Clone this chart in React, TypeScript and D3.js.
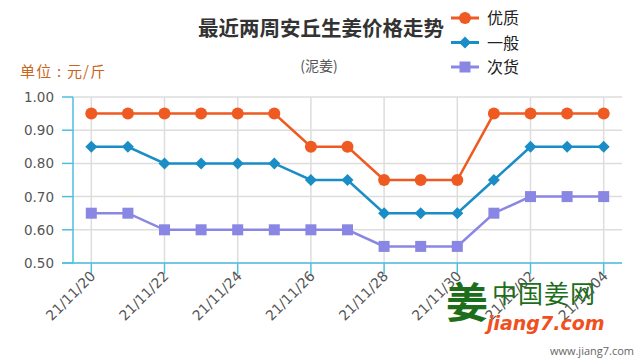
import React from "react";
import * as d3 from "d3";

const dates = ["21/11/20","21/11/21","21/11/22","21/11/23","21/11/24","21/11/25","21/11/26","21/11/27","21/11/28","21/11/29","21/11/30","21/12/01","21/12/02","21/12/03","21/12/04"];
const seriesNames = ["优质", "一般", "次货"];
const youzhi = [0.95,0.95,0.95,0.95,0.95,0.95,0.85,0.85,0.75,0.75,0.75,0.95,0.95,0.95,0.95];
const yiban = [0.85,0.85,0.80,0.80,0.80,0.80,0.75,0.75,0.65,0.65,0.65,0.75,0.85,0.85,0.85];
const cihuo = [0.65,0.65,0.60,0.60,0.60,0.60,0.60,0.60,0.55,0.55,0.55,0.65,0.70,0.70,0.70];
const yTicks = [0.5,0.6,0.7,0.8,0.9,1.0];

const colors = ["#ee5a22", "#1a8dc6", "#8a86e4"];
const axisColor = "#4dbfe3";
const FONT = "'Noto Sans CJK SC', 'Open Sans', sans-serif";
const NUMFONT = "'DejaVu Sans', sans-serif";

function Marker({ type, x, y, color }: { type: number; x: number; y: number; color: string }) {
  if (type === 0) return <circle cx={x} cy={y} r={6} fill={color} />;
  if (type === 1) return <path d={`M${x},${y - 6}L${x + 6},${y}L${x},${y + 6}L${x - 6},${y}Z`} fill={color} />;
  return <rect x={x - 5.5} y={y - 5.5} width={11} height={11} fill={color} />;
}

export default function App() {
  const left = 73, right = 622, top = 97, bottom = 263;
  const x = d3.scaleBand<string>().domain(dates).range([left, right]).padding(0);
  const cx = (d: string) => (x(d) as number) + x.bandwidth() / 2;
  const y = d3.scaleLinear().domain([0.5, 1.0]).range([bottom, top]);
  const data = [youzhi, yiban, cihuo];
  const line = d3.line<number>().x((_, i) => cx(dates[i])).y((v) => y(v));
  const labeled = dates.filter((_, i) => i % 2 === 0);

  return (
    <svg width={640} height={360} style={{ position: "absolute", left: 0, top: 0, fontFamily: FONT }}>
      <rect width={640} height={360} fill="#fff" />
      {/* grid */}
      {yTicks.map((t) => (
        <line key={t} x1={left} x2={right} y1={y(t)} y2={y(t)} stroke="#dddddd" strokeWidth={1.5} />
      ))}
      {labeled.map((d) => (
        <line key={d} x1={cx(d)} x2={cx(d)} y1={top} y2={bottom} stroke="#dddddd" strokeWidth={1.5} />
      ))}
      {/* axes */}
      <line x1={left} x2={left} y1={top} y2={bottom} stroke={axisColor} strokeWidth={1.5} />
      <line x1={62} x2={right} y1={bottom} y2={bottom} stroke={axisColor} strokeWidth={1.5} />
      {yTicks.map((t) => (
        <g key={t}>
          <line x1={62} x2={left} y1={y(t)} y2={y(t)} stroke={axisColor} strokeWidth={1.5} />
          <text x={54} y={y(t) + 5} textAnchor="end" fontSize={13.5} fill="#555" fontFamily={NUMFONT}>{t.toFixed(2)}</text>
        </g>
      ))}
      {labeled.map((d) => (
        <g key={d}>
          <line x1={cx(d)} x2={cx(d)} y1={bottom} y2={bottom + 11} stroke={axisColor} strokeWidth={1.5} />
          <text transform={`translate(${cx(d) + 5},${bottom + 14}) rotate(-45)`} textAnchor="end" fontSize={14} fill="#555" fontFamily={NUMFONT}>{d}</text>
        </g>
      ))}
      {/* series */}
      {data.map((s, k) => (
        <g key={k}>
          <path d={line(s) || ""} fill="none" stroke={colors[k]} strokeWidth={2.5} />
          {s.map((v, i) => (
            <Marker key={i} type={k} x={cx(dates[i])} y={y(v)} color={colors[k]} />
          ))}
        </g>
      ))}
      {/* titles */}
      <text x={321} y={36} textAnchor="middle" fontSize={20.5} fontWeight="bold" fill="#333">最近两周安丘生姜价格走势</text>
      <text x={319} y={71} textAnchor="middle" fontSize={14} fill="#555">(泥姜)</text>
      <text x={20} y={77} fontSize={15} fill="#c8651b" letterSpacing={1.2}>单位 : 元/斤</text>
      {/* legend */}
      {seriesNames.map((n, k) => {
        const ly = 18 + k * 24.5;
        return (
          <g key={n}>
            <line x1={451} x2={479} y1={ly} y2={ly} stroke={colors[k]} strokeWidth={3} />
            <Marker type={k} x={465} y={ly} color={colors[k]} />
            <text x={487} y={ly + 6} fontSize={16} fill="#222">{n}</text>
          </g>
        );
      })}
      {/* watermark */}
      <text x={446} y={318} fontSize={42} fontWeight="bold" fill="#1d6e1a">姜</text>
      <text x={492} y={303} fontSize={25} fill="#1d6e1a" letterSpacing={1}>中国姜网</text>
      <text x={487} y={330} fontSize={19} fontWeight="bold" fontStyle="italic" fill="#f0501e" fontFamily="'DejaVu Sans', sans-serif">jiang7.com</text>
      <text x={634} y={355} textAnchor="end" fontSize={11} fill="#666" fontFamily="'Open Sans', sans-serif">www.jiang7.com</text>
    </svg>
  );
}
